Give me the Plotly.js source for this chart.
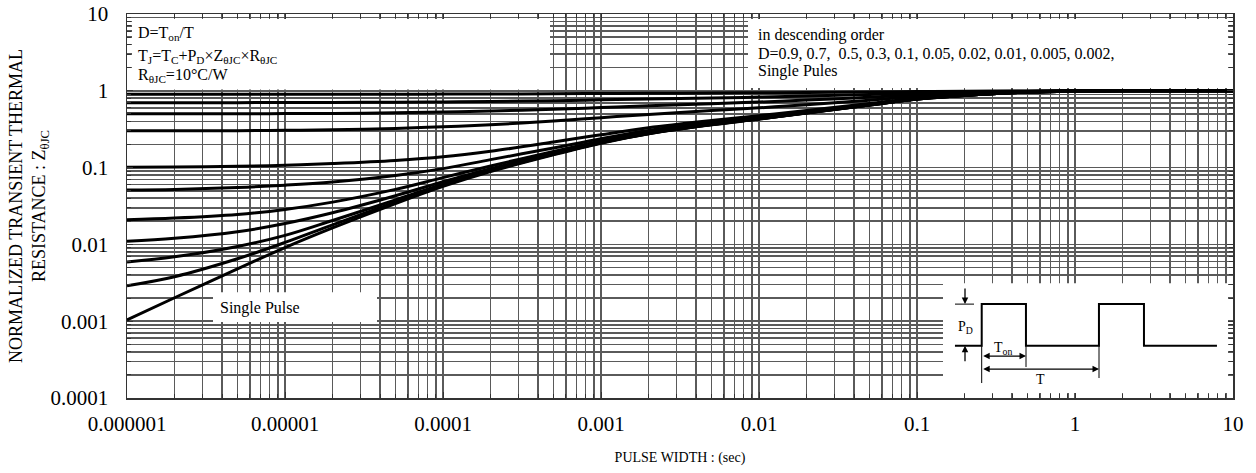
<!DOCTYPE html>
<html>
<head>
<meta charset="utf-8">
<script src="https://cdn.plot.ly/plotly-3.0.1.min.js"></script>
<style>html,body{margin:0;padding:0;background:#fff;}#chart{width:1256px;height:473px;}</style>
</head>
<body>
<div id="chart"></div>
<script>
// Pulse width (sec)
const pulseWidth = [1e-6, 2e-6, 5e-6, 1e-5, 2e-5, 5e-5, 1e-4, 2e-4, 5e-4, 1e-3, 2e-3, 5e-3, 1e-2, 2e-2, 5e-2, 0.1, 0.2, 0.5, 1, 2, 5, 10];

// Normalized transient thermal resistance, one array per duty cycle
const dutyNames = ['D=0.9', 'D=0.7', 'D=0.5', 'D=0.3', 'D=0.1', 'D=0.05', 'D=0.02', 'D=0.01', 'D=0.005', 'D=0.002', 'Single Pulse'];
const zD09   = [0.90, 0.90, 0.90, 0.901, 0.902, 0.903, 0.906, 0.909, 0.915, 0.921, 0.928, 0.936, 0.943, 0.951, 0.965, 0.978, 0.987, 0.996, 0.999, 1.0, 1.0, 1.0];
const zD07   = [0.70, 0.701, 0.701, 0.703, 0.705, 0.71, 0.717, 0.727, 0.744, 0.762, 0.783, 0.808, 0.828, 0.854, 0.896, 0.934, 0.961, 0.988, 0.997, 1.0, 1.0, 1.0];
const zD05   = [0.501, 0.501, 0.502, 0.505, 0.508, 0.517, 0.529, 0.545, 0.574, 0.604, 0.638, 0.68, 0.714, 0.757, 0.826, 0.89, 0.935, 0.98, 0.995, 1.0, 1.0, 1.0];
const zD03   = [0.301, 0.301, 0.303, 0.306, 0.311, 0.324, 0.34, 0.362, 0.403, 0.446, 0.493, 0.552, 0.60, 0.66, 0.756, 0.846, 0.909, 0.972, 0.993, 1.0, 1.0, 1.0];
const zD01   = [0.101, 0.102, 0.104, 0.107, 0.113, 0.124, 0.138, 0.163, 0.215, 0.268, 0.33, 0.41, 0.475, 0.556, 0.684, 0.80, 0.882, 0.964, 0.991, 1.0, 1.0, 1.0];
const zD005  = [0.051, 0.052, 0.055, 0.059, 0.065, 0.079, 0.097, 0.127, 0.18, 0.238, 0.305, 0.388, 0.455, 0.537, 0.668, 0.79, 0.876, 0.962, 0.991, 1.0, 1.0, 1.0];
const zD002  = [0.021, 0.022, 0.0245, 0.0285, 0.0355, 0.052, 0.074, 0.105, 0.162, 0.222, 0.289, 0.372, 0.438, 0.523, 0.659, 0.784, 0.873, 0.961, 0.99, 1.0, 1.0, 1.0];
const zD001  = [0.011, 0.012, 0.0146, 0.0187, 0.0258, 0.043, 0.0655, 0.097, 0.154, 0.215, 0.281, 0.366, 0.434, 0.519, 0.655, 0.782, 0.871, 0.96, 0.99, 1.0, 1.0, 1.0];
const zD0005 = [0.0059, 0.0069, 0.0094, 0.0131, 0.0205, 0.038, 0.061, 0.093, 0.15, 0.211, 0.278, 0.363, 0.431, 0.516, 0.654, 0.781, 0.87, 0.96, 0.99, 1.0, 1.0, 1.0];
const zD0002 = [0.0029, 0.0038, 0.0065, 0.0106, 0.018, 0.0355, 0.0585, 0.0905, 0.149, 0.21, 0.276, 0.361, 0.429, 0.515, 0.653, 0.78, 0.87, 0.96, 0.99, 1.0, 1.0, 1.0];
const zSingle = [0.00104, 0.00202, 0.0048, 0.0091, 0.0164, 0.034, 0.057, 0.089, 0.147, 0.208, 0.275, 0.36, 0.428, 0.514, 0.652, 0.78, 0.87, 0.96, 0.99, 1.0, 1.0, 1.0];

// Tick labels
const xTickVals = [1e-6, 1e-5, 1e-4, 1e-3, 1e-2, 0.1, 1, 10];
const xTickText = ['0.000001', '0.00001', '0.0001', '0.001', '0.01', '0.1', '1', '10'];
const yTickVals = [1e-4, 1e-3, 1e-2, 0.1, 1, 10];
const yTickText = ['0.0001', '0.001', '0.01', '0.1', '1', '10'];

const seriesValues = [zD09, zD07, zD05, zD03, zD01, zD005, zD002, zD001, zD0005, zD0002, zSingle];

const FONT = 'Liberation Serif, Times New Roman, serif';
const GRID = '#5a5a5a';

const traces = seriesValues.map((vals, i) => ({
  x: pulseWidth,
  y: vals,
  name: dutyNames[i],
  type: 'scatter',
  mode: 'lines',
  line: {color: '#000', width: 3, shape: 'spline', smoothing: 1},
  hoverinfo: 'x+y+name'
}));

// helpers: reference-pixel to paper coordinates (plot area 127..1233 x 13.5..398)
const px = X => (X - 127) / 1106;
const py = Y => (398 - Y) / 384.5;

const whiteBox = (x0, y0, x1, y1) => ({
  type: 'rect', xref: 'paper', yref: 'paper', layer: 'above',
  x0: px(x0), x1: px(x1), y0: py(y1), y1: py(y0),
  fillcolor: '#fff', line: {width: 0}
});

const seg = (x0, y0, x1, y1, w) => ({
  type: 'line', xref: 'paper', yref: 'paper', layer: 'above',
  x0: px(x0), y0: py(y0), x1: px(x1), y1: py(y1),
  line: {color: '#000', width: w || 1}
});

// pulse waveform path
const wave = [[955,345.7],[981.7,345.7],[981.7,304],[1026,304],[1026,345.7],[1099,345.7],[1099,304],[1144,304],[1144,345.7],[1217,345.7]];
const wavePath = wave.map((p, i) => (i ? 'L' : 'M') + px(p[0]).toFixed(4) + ',' + py(p[1]).toFixed(4)).join(' ');

const shapes = [
  whiteBox(132, 18.5, 550, 89),
  whiteBox(748, 18.5, 1228, 87.5),
  whiteBox(213, 292, 377, 322),
  whiteBox(943, 283, 1228, 393),
  {type: 'path', xref: 'paper', yref: 'paper', layer: 'above', path: wavePath, line: {color: '#000', width: 2}},
  seg(955, 304, 974, 304, 1),
  seg(981.7, 345.7, 981.7, 383, 1),
  seg(1026, 345.7, 1026, 367, 1),
  seg(1099, 345.7, 1099, 378, 1)
];

const txt = (X, Y, text, size, anchor) => ({
  xref: 'paper', yref: 'paper', x: px(X), y: py(Y), text: text,
  showarrow: false, xanchor: anchor || 'left', yanchor: 'middle',
  font: {family: FONT, size: size, color: '#000'}
});

const arrow = (Xh, Yh, ax, ay, both) => ({
  xref: 'paper', yref: 'paper', x: px(Xh), y: py(Yh), text: '',
  showarrow: true, ax: ax, ay: ay, arrowhead: 2, arrowsize: 1, arrowwidth: 1.3,
  arrowcolor: '#000', arrowside: both ? 'end+start' : 'end', standoff: 0, startstandoff: 0
});

const annotations = [
  txt(136, 33, 'D=T<sub>on</sub>/T', 16),
  txt(136, 56, 'T<sub>J</sub>=T<sub>C</sub>+P<sub>D</sub>×Z<sub>θJC</sub>×R<sub>θJC</sub>', 16),
  txt(136, 75, 'R<sub>θJC</sub>=10°C/W', 16),
  txt(756, 35, 'in descending order', 16),
  txt(756, 53, 'D=0.9, 0.7,  0.5, 0.3, 0.1, 0.05, 0.02, 0.01, 0.005, 0.002,', 16),
  txt(756, 71, 'Single Pules', 16),
  txt(218, 308, 'Single Pulse', 16),
  txt(965, 327, 'P<sub>D</sub>', 14, 'center'),
  txt(1003, 348, 'T<sub>on</sub>', 14, 'center'),
  txt(1040, 379, 'T', 14, 'center'),
  arrow(965, 304, 0, -17, false),
  arrow(965, 345.7, 0, 17, false),
  arrow(1026, 356, -44.3, 0, true),
  arrow(1099, 369, -117.3, 0, true)
];

const axisCommon = {
  type: 'log',
  tickmode: 'array',
  ticks: 'inside', ticklen: 6, tickwidth: 1, tickcolor: '#333',
  showgrid: true, gridcolor: GRID, gridwidth: 1.6,
  minor: {dtick: 'D1', showgrid: true, gridcolor: GRID, gridwidth: 1.6, ticks: 'inside', ticklen: 4, tickcolor: '#333'},
  showline: true, mirror: 'allticks', linecolor: '#333', linewidth: 1.5,
  zeroline: false,
  tickfont: {family: FONT, size: 21, color: '#000'},
  automargin: false
};

const layout = {
  width: 1256, height: 473,
  margin: {l: 127, r: 23, t: 14, b: 75},
  paper_bgcolor: '#fff', plot_bgcolor: '#fff',
  showlegend: false,
  font: {family: FONT, color: '#000'},
  xaxis: Object.assign({}, axisCommon, {
    range: [-6, 1], tickvals: xTickVals, ticktext: xTickText,
    ticklabelstandoff: 6,
    title: {text: 'PULSE WIDTH : (sec)', font: {family: FONT, size: 14, color: '#000'}, standoff: 17}
  }),
  yaxis: Object.assign({}, axisCommon, {
    range: [-4, 1], tickvals: yTickVals, ticktext: yTickText,
    ticklabelstandoff: 13,
    title: {text: 'NORMALIZED TRANSIENT THERMAL<br>RESISTANCE : Z<sub>θJC</sub>', font: {family: FONT, size: 18, color: '#000'}, standoff: 0}
  }),
  shapes: shapes,
  annotations: annotations
};

Plotly.newPlot('chart', traces, layout, {displayModeBar: false, staticPlot: true});
</script>
</body>
</html>
